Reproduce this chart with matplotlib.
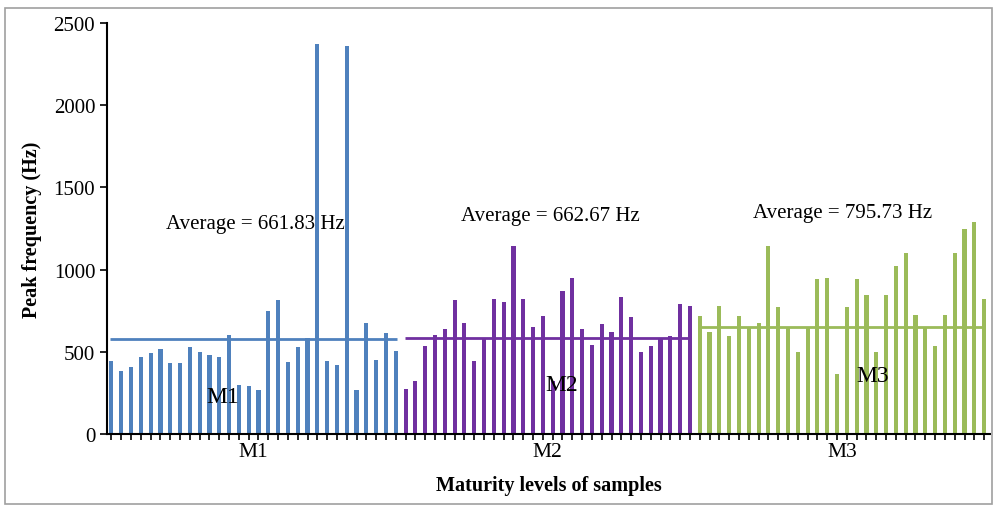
import numpy as np
import matplotlib
matplotlib.use("Agg")
from matplotlib import pyplot as plt
from matplotlib.patches import Rectangle

plt.rcParams['font.family'] = ['Liberation Serif', 'DejaVu Serif']

groups = ['M1', 'M2', 'M3']
m1 = [446, 383, 407, 468, 490, 517, 430, 430, 531, 501, 478, 468, 600, 298, 290,
      268, 748, 817, 438, 531, 582, 2375, 444, 421, 2360, 268, 677, 448, 614, 507]
m2 = [274, 324, 537, 602, 638, 813, 677, 442, 578, 821, 803, 1141, 821, 649, 715,
      320, 867, 950, 638, 541, 669, 622, 835, 709, 501, 537, 578, 594, 788, 780]
m3 = [715, 622, 780, 598, 719, 649, 677, 1145, 772, 649, 501, 649, 940, 950, 365,
      772, 944, 843, 501, 843, 1019, 1098, 726, 649, 537, 723, 1098, 1246, 1287, 821]
line_levels = [580, 582, 652]
avg_labels = ['Average = 661.83 Hz', 'Average = 662.67 Hz', 'Average = 795.73 Hz']
colors = ['#4F81BD', '#7030A0', '#9BBB59']

fig = plt.figure(figsize=(9.95, 5.10), dpi=100)
ax = fig.add_axes([107/995, 1-435/510, 883/995, 411/510])

series = [m1, m2, m3]
start = 0
for k, vals in enumerate(series):
    x = np.arange(start, start + len(vals))
    ax.bar(x, vals, width=0.42, color=colors[k], zorder=2)
    ax.hlines(line_levels[k], start - 0.1, start + len(vals) - 0.9,
              color=colors[k], lw=2, zorder=3)
    start += len(vals)

n = len(m1) + len(m2) + len(m3)
ax.set_xlim(-0.45, n - 0.4)
ax.set_ylim(0, 2500)
ax.set_yticks([0, 500, 1000, 1500, 2000, 2500])

# one small tick per sample, group names centred below
ax.set_xticks(np.arange(n), minor=True)
centers = [14.5, 44.5, 74.5]
ax.set_xticks(centers)
ax.set_xticklabels(groups, fontsize=15.5)
ax.tick_params(axis='x', which='major', length=0, pad=6)
ax.tick_params(axis='x', which='minor', length=4, width=1.2, direction='out')
ax.tick_params(axis='y', length=5, width=1.2, labelsize=15, direction='out')

for s in ['top', 'right']:
    ax.spines[s].set_visible(False)
for s in ['left', 'bottom']:
    ax.spines[s].set_linewidth(1.5)

ax.set_ylabel('Peak frequency (Hz)', fontsize=14.5, fontweight='bold', labelpad=8)
ax.set_xlabel('Maturity levels of samples', fontsize=14.5, fontweight='bold', labelpad=10)

# average annotations and group labels inside the plot
ax.text(14.7, 1280, avg_labels[0], fontsize=15, ha='center', va='center', zorder=4)
ax.text(44.8, 1330, avg_labels[1], fontsize=15, ha='center', va='center', zorder=4)
ax.text(74.6, 1345, avg_labels[2], fontsize=15, ha='center', va='center', zorder=4)
ax.text(11.4, 230, 'M1', fontsize=17, ha='center', va='center', zorder=4)
ax.text(45.9, 300, 'M2', fontsize=17, ha='center', va='center', zorder=4)
ax.text(77.6, 355, 'M3', fontsize=17, ha='center', va='center', zorder=4)

fig.patches.append(Rectangle((5/995, 5/510), 987/995, 496/510, transform=fig.transFigure,
                             fill=False, edgecolor='#a0a0a0', lw=1.2))

fig.savefig('out.png', dpi=100)
